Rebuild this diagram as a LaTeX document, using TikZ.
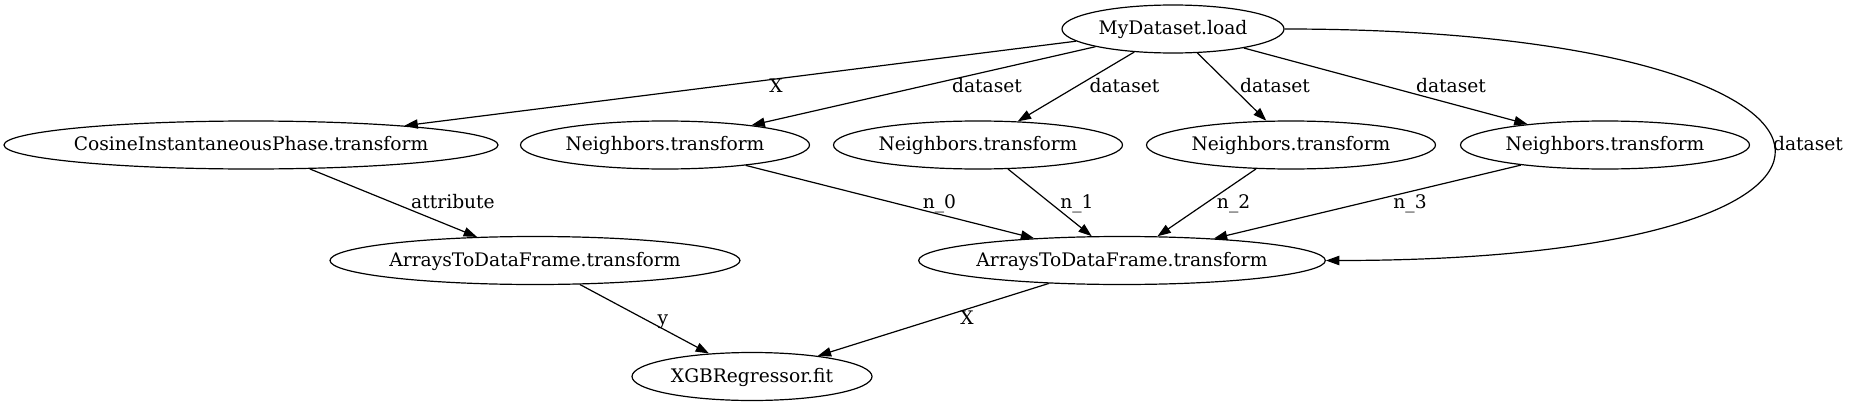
\documentclass[tikz,border=0pt]{standalone}
\usepackage{fontspec}
\setmainfont{DejaVu Serif}
\usetikzlibrary{shapes.geometric, arrows.meta}

\begin{document}
\begin{tikzpicture}[> = {Triangle[length = 10pt, width = 7pt]}, x = 0.75pt, y = -0.75pt,
	op/.style = {draw, ellipse, line width = 0.9pt, minimum height = 36pt, inner xsep = -3pt, text height = 10pt, text depth = 1.4pt, font = \fontsize{14pt}{17pt}\selectfont},
	lab/.style = {anchor = base, inner sep = 0pt, font = \fontsize{14pt}{17pt}\selectfont},
	flow/.style = {->, line width = 0.9pt}]

	\useasboundingbox (0, 0) rectangle (1850, 407);

	% Loader
	
	\node [op, minimum width = 166.5pt] (load) at (1173, 29) {MyDataset.load};
	
	% Transforms
	
	\node [op, minimum width = 370.5pt] (cos) at (251, 145) {CosineInstantaneousPhase.transform};
	\node [op, minimum width = 216.75pt] (nb0) at (665, 145) {Neighbors.transform};
	\node [op, minimum width = 216.75pt] (nb1) at (978, 145) {Neighbors.transform};
	\node [op, minimum width = 216.75pt] (nb2) at (1291, 145) {Neighbors.transform};
	\node [op, minimum width = 216.75pt] (nb3) at (1605, 145) {Neighbors.transform};
	
	% Frames and fit
	
	\node [op, minimum width = 307.5pt] (atdfL) at (535, 260.5) {ArraysToDataFrame.transform};
	\node [op, minimum width = 305pt] (atdfR) at (1122, 260.5) {ArraysToDataFrame.transform};
	\node [op, minimum width = 180pt] (xgb) at (752, 376.5) {XGBRegressor.fit};
	
	% Edges from the loader
	
	\draw [flow] (load) -- (cos);
	\draw [flow] (load) -- (nb0);
	\draw [flow] (load) -- (nb1);
	\draw [flow] (load) -- (nb2);
	\draw [flow] (load) -- (nb3);
	\draw [flow] (load) to [out = 0, in = 0, looseness = 6.8] (atdfR);
	
	\node [lab] (X-label) at (776, 92.3) {X};
	\node [lab] (dataset-label-0) at (987, 92.3) {dataset};
	\node [lab] (dataset-label-1) at (1124.5, 92.3) {dataset};
	\node [lab] (dataset-label-2) at (1275, 92.3) {dataset};
	\node [lab] (dataset-label-3) at (1451, 92.3) {dataset};
	\node [lab] (dataset-label-4) at (1808, 150.7) {dataset};
	
	% Edges into the frames
	
	\draw [flow] (cos) -- (atdfL);
	\draw [flow] (nb0) -- (atdfR);
	\draw [flow] (nb1) -- (atdfR);
	\draw [flow] (nb2) -- (atdfR);
	\draw [flow] (nb3) -- (atdfR);
	
	\node [lab] (attribute-label) at (453, 208) {attribute};
	\node [lab] (n0-label) at (939.5, 208) {n\_0};
	\node [lab] (n1-label) at (1077, 208) {n\_1};
	\node [lab] (n2-label) at (1233.6, 208) {n\_2};
	\node [lab] (n3-label) at (1410, 208) {n\_3};
	
	% Edges into the regressor
	
	\draw [flow] (atdfL) -- (xgb);
	\draw [flow] (atdfR) -- (xgb);
	
	\node [lab] (y-label) at (663, 324) {y};
	\node [lab] (X-label-2) at (967, 324) {X};
	
\end{tikzpicture}
\end{document}
